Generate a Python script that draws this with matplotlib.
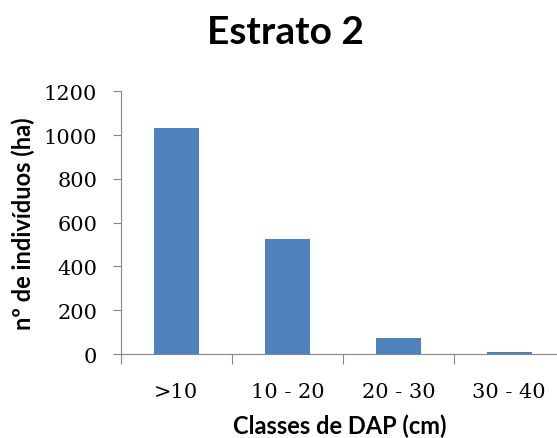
import matplotlib.pyplot as plt

categories = [">10", "10 - 20", "20 - 30", "30 - 40"]
values = [1030, 525, 75, 10]
yticks = [0, 200, 400, 600, 800, 1000, 1200]

fig = plt.figure(figsize=(5.57, 4.39), dpi=100)
# axes runs a bit past the right edge, as in the original
ax = fig.add_axes([0.217, 0.191, 0.797, 0.599])

x = list(range(len(categories)))
ax.bar(x, values, width=0.4, color="#4F81BD", zorder=3)

ax.set_xlim(-0.5, len(categories) - 0.5)
ax.set_ylim(0, 1200)
ax.set_yticks(yticks)
ax.set_xticks([i - 0.5 for i in range(len(categories) + 1)], minor=False)
ax.set_xticklabels([])
ax.set_xticks(x, minor=True)
ax.set_xticklabels(categories, minor=True, fontsize=15, family="DejaVu Serif")
ax.tick_params(axis="x", which="minor", length=0, pad=20)
ax.tick_params(axis="x", which="major", length=7, color="#868686", direction="out")
ax.tick_params(axis="y", length=6, color="#868686", direction="out", pad=11)
for lab in ax.get_yticklabels():
    lab.set_fontsize(15)
    lab.set_family("DejaVu Serif")

for s in ["top", "right"]:
    ax.spines[s].set_visible(False)
for s in ["left", "bottom"]:
    ax.spines[s].set_color("#868686")

fig.text(0.513, 0.925, "Estrato 2", ha="center", va="center",
         fontsize=28, fontweight="bold", family="Lato")
ax.set_ylabel("nº de indivíduos (ha)", fontsize=17, fontweight="bold", family="Lato", labelpad=6)
fig.text(0.61, 0.028, "Classes de DAP (cm)", ha="center", va="center",
         fontsize=17, fontweight="bold", family="Lato")

fig.savefig("out.png", dpi=100)
